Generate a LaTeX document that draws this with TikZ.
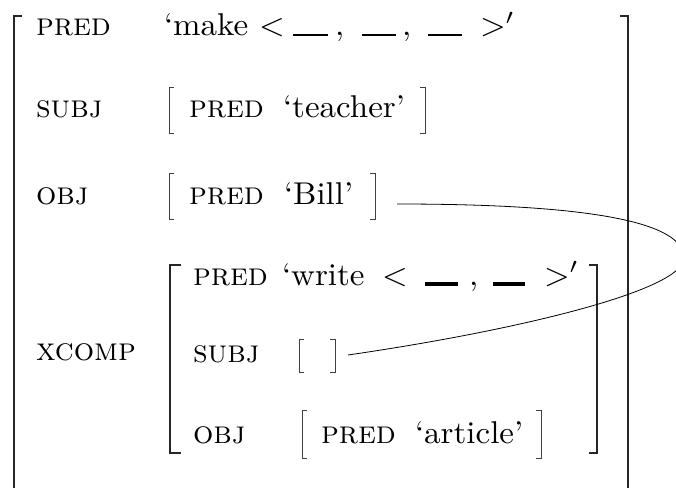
\documentclass[tikz,border=0pt]{standalone}
\usepackage{fontspec}
\newcommand\valtext[1]{\scalebox{3.3}[3.15]{\fontsize{10}{12}\selectfont #1}}
\newcommand\labtext[1]{\scalebox{3.2}{\fontsize{10}{12}\selectfont\textsc{#1}}}
\begin{document}
\begin{tikzpicture}[x=1pt,y=-1pt,
  txt/.style={anchor=base west, inner sep=0pt, outer sep=0pt},
  bigbr/.style={line width=2pt, black!85},
  smbr/.style={line width=0.9pt, black!75},
  thinbar/.style={line width=2.2pt},
  thickbar/.style={line width=4.5pt},
  link/.style={line width=0.8pt}]
\useasboundingbox (0,0) rectangle (676,487);
\clip (0,0) rectangle (676,487);
% outer brackets
\draw[bigbr] (22,16) -- (14,16) -- (14,495);
\draw[bigbr] (620,16) -- (628,16) -- (628,495);
% row 1
\node[txt] (p1) at (36,36) {\labtext{pred}};
\node[txt] (make) at (164,36) {\valtext{‘make}};
\node[txt] (lt1) at (259,36) {\valtext{$<$}};
\coordinate (b1a) at (293,35); \coordinate (b1b) at (328,35);
\coordinate (b2a) at (362,35); \coordinate (b2b) at (396,35);
\coordinate (b3a) at (428,35); \coordinate (b3b) at (462,35);
\draw[thinbar] (b1a) -- (b1b);
\draw[thinbar] (b2a) -- (b2b);
\draw[thinbar] (b3a) -- (b3b);
\node[txt] (c1) at (335,36) {\valtext{,}};
\node[txt] (c2) at (402,36) {\valtext{,}};
\node[txt] (gt1) at (480,36) {\valtext{$>'$}};
% row 2
\node[txt] (subj) at (36,117) {\labtext{subj}};
\draw[smbr] (174,87) -- (169,87) -- (169,133) -- (174,133);
\node[txt] (p2) at (189,117) {\labtext{pred}};
\node[txt] (teacher) at (283,117) {\valtext{‘teacher’}};
\draw[smbr] (420,87) -- (425,87) -- (425,133) -- (420,133);
% row 3
\node[txt] (obj) at (36,204) {\labtext{obj}};
\draw[smbr] (174,173) -- (169,173) -- (169,219) -- (174,219);
\node[txt] (p3) at (189,204) {\labtext{pred}};
\node[txt] (bill) at (284,204) {\valtext{‘Bill’}};
\draw[smbr] (370,173) -- (375,173) -- (375,219) -- (370,219);
% xcomp
\node[txt] (xcomp) at (36,360) {\labtext{xcomp}};
\draw[bigbr] (181,265) -- (170,265) -- (170,453) -- (181,453);
\draw[bigbr] (589,265) -- (597,265) -- (597,453) -- (589,453);
\node[txt] (ip) at (193,285) {\labtext{pred}};
\node[txt] (write) at (282,285) {\valtext{‘write}};
\node[txt] (lt2) at (382,285) {\valtext{$<$}};
\coordinate (ib1a) at (425,284); \coordinate (ib1b) at (458,284);
\coordinate (ib2a) at (493,284); \coordinate (ib2b) at (525,284);
\draw[thickbar] (ib1a) -- (ib1b);
\draw[thickbar] (ib2a) -- (ib2b);
\node[txt] (ic1) at (469,285) {\valtext{,}};
\node[txt] (gt2) at (544,285) {\valtext{$>'$}};
\node[txt] (isubj) at (193,362) {\labtext{subj}};
\draw[smbr] (304,339) -- (299,339) -- (299,372) -- (304,372);
\draw[smbr] (330,339) -- (335,339) -- (335,372) -- (330,372);
\node[txt] (iobj) at (193,443) {\labtext{obj}};
\draw[smbr] (307,410) -- (302,410) -- (302,458) -- (307,458);
\node[txt] (ip2) at (321,443) {\labtext{pred}};
\node[txt] (article) at (415,443) {\valtext{‘article’}};
\draw[smbr] (536,410) -- (541,410) -- (541,458) -- (536,458);
% structure-sharing link
\coordinate (cs) at (397,204);
\coordinate (cx) at (684,258);
\coordinate (ce) at (348,355);
\draw[link] (cs) .. controls (590,204) and (684,222) .. (cx)
            .. controls (684,290) and (520,330) .. (ce);
\end{tikzpicture}
\end{document}
